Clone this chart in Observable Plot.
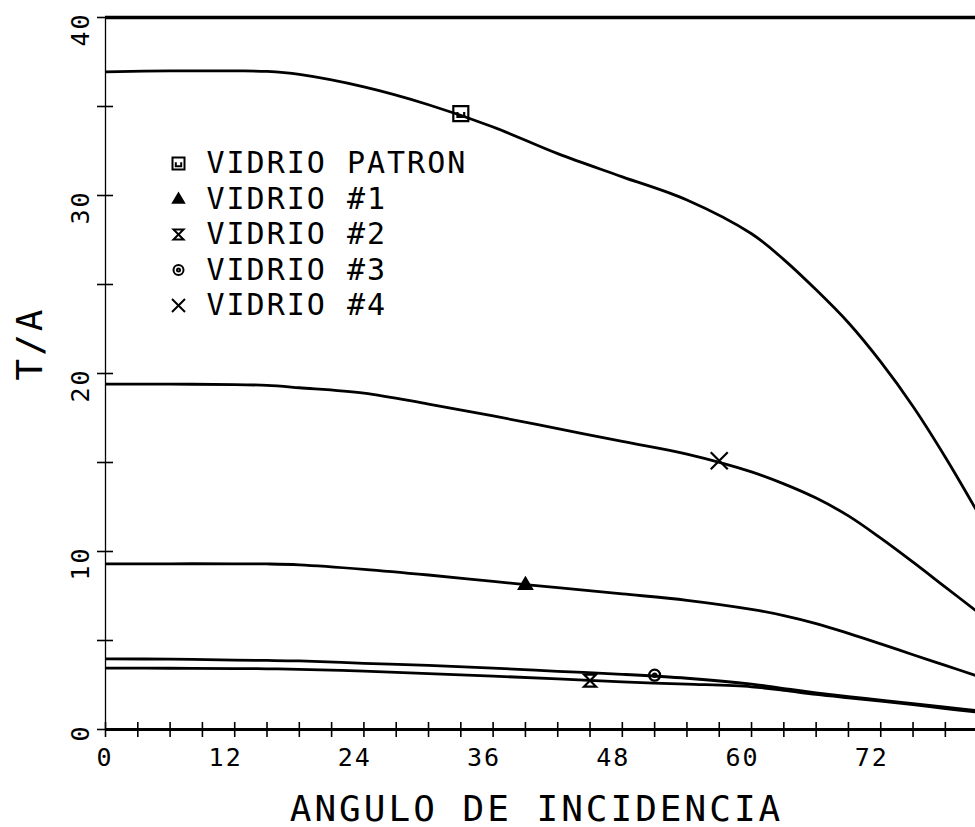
<!DOCTYPE html>
<html>
<head>
<meta charset="utf-8">
<script src="https://cdn.jsdelivr.net/npm/d3@7"></script>
<script src="https://cdn.jsdelivr.net/npm/@observablehq/plot@0.6"></script>
<style>
  html, body { margin: 0; padding: 0; background: #fff; overflow: hidden; }
  #chart svg { display: block; }
  #chart svg text { letter-spacing: 2px; }
</style>
</head>
<body>
<div id="chart"></div>
<script>
// Angle of incidence (degrees) at which each curve is sampled
const angle   = [0, 6, 12, 15, 18, 24, 30, 36, 42, 48, 54, 60, 63, 66, 69, 72, 75, 78, 81];
// T/A for each glass sample
const patron  = [36.95, 37.0, 37.0, 36.97, 36.8, 36.1, 35.1, 33.85, 32.35, 31.05, 29.75, 27.85, 26.4, 24.7, 22.85, 20.65, 18.15, 15.3, 12.2];
const vidrio1 = [9.31, 9.31, 9.31, 9.3, 9.25, 9.0, 8.68, 8.32, 7.97, 7.62, 7.26, 6.75, 6.4, 5.95, 5.4, 4.81, 4.2, 3.6, 3.0];
const vidrio2 = [3.45, 3.44, 3.42, 3.41, 3.38, 3.28, 3.14, 3.0, 2.84, 2.67, 2.55, 2.4, 2.2, 1.97, 1.78, 1.6, 1.4, 1.18, 0.97];
const vidrio3 = [3.97, 3.95, 3.9, 3.88, 3.85, 3.72, 3.6, 3.45, 3.27, 3.1, 2.88, 2.55, 2.3, 2.06, 1.85, 1.65, 1.45, 1.25, 1.05];
const vidrio4 = [19.4, 19.4, 19.38, 19.33, 19.2, 18.9, 18.28, 17.62, 16.9, 16.18, 15.47, 14.47, 13.8, 13.0, 12.0, 10.75, 9.4, 8.0, 6.6];

const seriesNames = ["VIDRIO PATRON", "VIDRIO #1", "VIDRIO #2", "VIDRIO #3", "VIDRIO #4"];
const seriesValues = [patron, vidrio1, vidrio2, vidrio3, vidrio4];

// One identifying symbol per curve
const markerAngle = [33, 39, 45, 51, 57];
const markerValue = [34.6, 8.15, 2.75, 3.05, 15.1];

// Axis tick labels
const xTickLabels = [0, 12, 24, 36, 48, 60, 72];
const yTickLabels = [0, 10, 20, 30, 40];
const xTitle = "ANGULO DE INCIDENCIA";
const yTitle = "T/A";

// ---- layout ----
const width = 975, height = 827;
const marginLeft = 105, marginRight = 0, marginTop = 17, marginBottom = 98;
const frameW = width - marginLeft - marginRight;
const frameH = height - marginTop - marginBottom;

// ---- plotter-style symbols (r is the half width) ----
const rad = (size) => Math.sqrt(size / Math.PI);
const squareSym = {draw(c, size) {
  const r = rad(size);
  c.rect(-r, -r, 2 * r, 2 * r);
  c.moveTo(-r * 0.45, -r * 0.2); c.lineTo(-r * 0.45, r * 0.45); c.lineTo(r * 0.45, r * 0.45); c.lineTo(r * 0.45, -r * 0.2);
}};
const triangleSym = {draw(c, size) {
  const r = rad(size);
  c.moveTo(0, -r); c.lineTo(r, r * 0.7); c.lineTo(-r, r * 0.7); c.closePath();
}};
const hourglassSym = {draw(c, size) {
  const r = rad(size);
  c.moveTo(-r, -r); c.lineTo(r, -r); c.lineTo(-r, r); c.lineTo(r, r); c.closePath();
}};
const circleSym = {draw(c, size) {
  const r = rad(size);
  c.moveTo(r, 0); c.arc(0, 0, r, 0, 2 * Math.PI);
  c.moveTo(r * 0.3, 0); c.arc(0, 0, r * 0.3, 0, 2 * Math.PI);
}};
const timesSym = {draw(c, size) {
  const r = rad(size);
  c.moveTo(-r, -r); c.lineTo(r, r); c.moveTo(r, -r); c.lineTo(-r, r);
}};

const symbolOf = [squareSym, triangleSym, hourglassSym, circleSym, timesSym];
const fillOf = ["none", "black", "none", "none", "none"];
const markerR = [7.5, 6.5, 6, 5.5, 8.5];
const legendR = [6, 5.5, 5, 5, 6.5];

// ---- tables ----
const rows = seriesNames.flatMap((name, s) =>
  angle.map((a, i) => ({name, angle: a, value: seriesValues[s][i]})));
const markers = seriesNames.map((name, s) => ({name, angle: markerAngle[s], value: markerValue[s]}));

const marks = [
  // frame lines
  Plot.ruleY([40], {strokeWidth: 3.4}),
  Plot.ruleY([0], {strokeWidth: 2.8}),
  Plot.ruleX([0], {strokeWidth: 1.3}),
  // tick marks crossing the axes
  Plot.ruleX(d3.range(0, 82, 3), {x: d => d, insetTop: frameH - 7, insetBottom: -8, strokeWidth: 1.6}),
  Plot.ruleY(d3.range(0, 41, 5), {y: d => d, insetLeft: -8, insetRight: frameW - 8, strokeWidth: 1.6}),
  // tick labels
  Plot.text(xTickLabels, {x: d => d, text: d => String(d), frameAnchor: "bottom",
    textAnchor: "end", lineAnchor: "bottom", dx: 8, dy: 36, fontSize: 25}),
  Plot.text(yTickLabels, {y: d => d, text: d => String(d), frameAnchor: "left", rotate: -90,
    textAnchor: "end", lineAnchor: "bottom", dx: -17, dy: -5, fontSize: 25}),
  // axis titles
  Plot.text([xTitle], {frameAnchor: "bottom", text: d => d, lineAnchor: "bottom",
    dx: -4, dy: 91, fontSize: 36}),
  Plot.text([yTitle], {frameAnchor: "left", text: d => d, rotate: -90, lineAnchor: "bottom",
    dx: -64, dy: 7, fontSize: 36}),
  // curves
  Plot.line(rows, {x: "angle", y: "value", z: "name", curve: "catmull-rom",
    stroke: "black", strokeWidth: 2.8, clip: true}),
];

// curve symbols and legend entries
seriesNames.forEach((name, s) => {
  marks.push(Plot.dot([markers[s]], {x: "angle", y: "value", symbol: symbolOf[s], r: markerR[s],
    fill: fillOf[s], stroke: "black", strokeWidth: 2.2}));
  const rowY = 146 + s * 35.5;
  marks.push(Plot.dot([name], {frameAnchor: "top-left", dx: 73, dy: rowY, symbol: symbolOf[s],
    r: legendR[s], fill: fillOf[s], stroke: "black", strokeWidth: 2}));
  marks.push(Plot.text([name], {frameAnchor: "top-left", text: d => d, dx: 101, dy: rowY,
    textAnchor: "start", lineAnchor: "middle", fontSize: 30}));
});

const chart = Plot.plot({
  width, height, marginLeft, marginRight, marginTop, marginBottom,
  x: {domain: [0, 80.8], axis: null},
  y: {domain: [0, 40], axis: null},
  style: {fontFamily: "'DejaVu Sans Mono', monospace", background: "#fff", color: "#000"},
  marks
});

// wider plotter spacing for the two axis titles
d3.select(chart).selectAll("text")
  .filter(function () { return this.textContent === xTitle || this.textContent === yTitle; })
  .style("letter-spacing", "3px");

document.getElementById("chart").append(chart);
</script>
</body>
</html>
